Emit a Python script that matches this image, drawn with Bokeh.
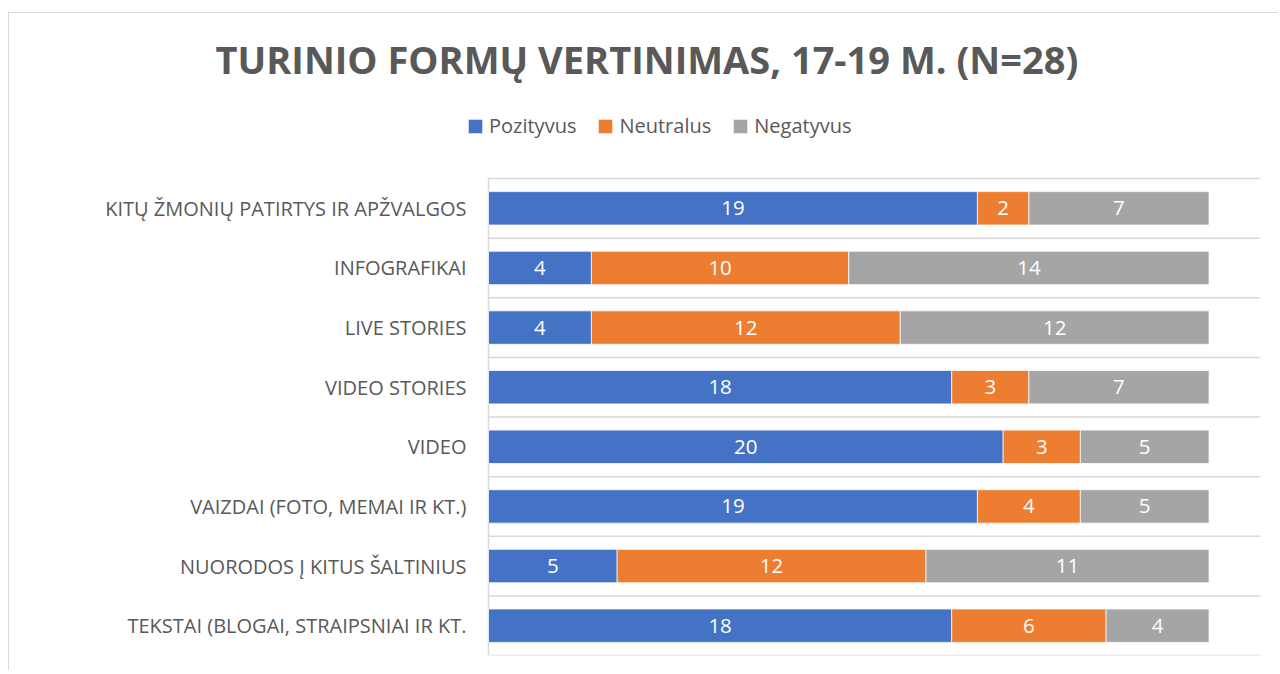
from bokeh.plotting import figure
from bokeh.models import ColumnDataSource, FixedTicker, Legend, LegendItem, Title
from bokeh.core.properties import value
from bokeh.embed import file_html
from bokeh.resources import INLINE

# ---- data (top to bottom as in the reference) ----
categories = [
    "KITŲ ŽMONIŲ PATIRTYS IR APŽVALGOS",
    "INFOGRAFIKAI",
    "LIVE STORIES",
    "VIDEO STORIES",
    "VIDEO",
    "VAIZDAI (FOTO, MEMAI IR KT.)",
    "NUORODOS Į KITUS ŠALTINIUS",
    "TEKSTAI (BLOGAI, STRAIPSNIAI IR KT.",
]
pozityvus = [19, 4, 4, 18, 20, 19, 5, 18]
neutralus = [2, 10, 12, 3, 3, 4, 12, 6]
negatyvus = [7, 14, 12, 7, 5, 5, 11, 4]
series_names = ["Pozityvus", "Neutralus", "Negatyvus"]
colors = ["#4472C4", "#ED7D31", "#A5A5A5"]
title_text = "TURINIO FORMŲ VERTINIMAS, 17-19 M. (N=28)"

n = len(categories)
ypos = [n - i - 0.5 for i in range(n)]
x_max = 30
x_min = -0.855     # small room left of the bars' base line (holds the legend's start)
top_pad = 1.258    # room above the bars for the legend (in category units)

src = ColumnDataSource(data={
    "y": ypos,
    "Pozityvus": pozityvus,
    "Neutralus": neutralus,
    "Negatyvus": negatyvus,
})

p = figure(width=1270, height=658, x_range=(x_min, x_max), y_range=(0, n + top_pad),
           output_backend="svg", toolbar_location=None,
           min_border_left=457, min_border_right=19,
           min_border_top=90, min_border_bottom=16)
p.outline_line_color = None
p.background_fill_color = "white"
p.border_fill_color = "white"
p.xgrid.visible = False
p.ygrid.visible = False

# horizontal separators between categories, and the vertical base line
bounds = list(range(n + 1))
p.segment(x0=[0] * len(bounds), y0=bounds, x1=[x_max] * len(bounds), y1=bounds,
          line_color="#d9d9d9", line_width=1.5)
p.segment(x0=[0], y0=[0], x1=[0], y1=[n], line_color="#d9d9d9", line_width=1.5)

renderers = p.hbar_stack(series_names, y="y", height=0.56, color=colors,
                         line_color="white", line_width=0.75, source=src)

# data labels
lx, ly, lt = [], [], []
series_vals = [pozityvus, neutralus, negatyvus]
for i in range(n):
    left = 0
    for vals in series_vals:
        v = vals[i]
        lx.append(left + v / 2)
        ly.append(ypos[i])
        lt.append(str(v))
        left += v
lab_src = ColumnDataSource(data={"x": lx, "y": ly, "t": lt})
p.text(x="x", y="y", text="t", source=lab_src, text_color="white",
       text_font=value("Open Sans"), text_font_size="20.5px",
       text_align="center", text_baseline="middle")

# axes
p.xaxis.visible = False
p.yaxis.ticker = FixedTicker(ticks=ypos)
p.yaxis.major_label_overrides = {y: c for y, c in zip(ypos, categories)}
p.yaxis.axis_line_color = None
p.yaxis.major_tick_line_color = None
p.yaxis.minor_tick_line_color = None
p.yaxis.major_tick_in = 0
p.yaxis.major_tick_out = 0
p.yaxis.major_label_standoff = 0
p.yaxis.major_label_text_font = "Open Sans"
p.yaxis.major_label_text_font_size = "20px"
p.yaxis.major_label_text_color = "#595959"

# legend
legend = Legend(items=[LegendItem(label=nm, renderers=[r]) for nm, r in zip(series_names, renderers)],
                orientation="horizontal", location=(0, 516),
                glyph_width=18, glyph_height=18, label_standoff=5, spacing=20,
                padding=0, margin=0, border_line_color=None, background_fill_alpha=0,
                label_text_font="Open Sans", label_text_font_size="20px",
                label_text_color="#595959")
p.add_layout(legend, "center")

# title
p.add_layout(Title(text=title_text, text_font="Open Sans", text_font_style="bold",
                   text_font_size="38px", text_color="#595959",
                   align="left", offset=-251, standoff=36,
                   vertical_align="middle"), "above")

p.styles = {"margin-left": "8px", "margin-top": "12px",
            "border-left": "1px solid #d9d9d9", "border-top": "1px solid #d9d9d9"}

open("out.html", "w").write(file_html(p, INLINE))
